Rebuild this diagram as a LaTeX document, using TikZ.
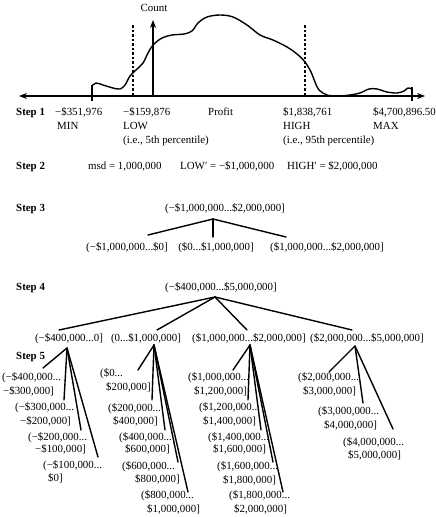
\documentclass[tikz,border=0pt]{standalone}
\usepackage{fontspec}
\setmainfont{Liberation Serif}
\usetikzlibrary{arrows.meta}
\begin{document}
\begin{tikzpicture}[x=1pt,y=-1pt,
  lbl/.style={inner sep=0pt, anchor=base west, font=\fontsize{10.9}{12}\selectfont},
  clbl/.style={inner sep=0pt, anchor=base, font=\fontsize{10.9}{12}\selectfont},
  steplbl/.style={inner sep=0pt, anchor=base west, font=\fontsize{10.9}{12}\selectfont\bfseries},
  branch/.style={line width=1.4pt, line cap=round},
  axisline/.style={line width=1.2pt},
  tipstyle/.style={-{Stealth[length=8pt,width=6pt]}},
  dashline/.style={line width=1.1pt, dash pattern=on 2.5pt off 2pt},
  curveline/.style={line width=1.4pt, line join=round}
]
\useasboundingbox (0,0) rectangle (436,517);

% ---------- Step 1: distribution ----------
\coordinate (axL) at (19,96);
\coordinate (axR) at (425,96);
\coordinate (cntB) at (153,96);
\coordinate (cntT) at (153,20);
\coordinate (minT) at (92,85);
\coordinate (minB) at (92,101);
\coordinate (maxT) at (412,87);
\coordinate (maxB) at (412,101);
\coordinate (lowT) at (133,25);
\coordinate (lowB) at (133,96);
\coordinate (highT) at (305,25);
\coordinate (highB) at (305,96);

\draw[axisline,{Stealth[length=8pt,width=6pt]}-{Stealth[length=8pt,width=6pt]}] (axL) -- (axR);
\draw[axisline,tipstyle] (cntB) -- (cntT);
\draw[dashline] (lowT) -- (lowB);
\draw[dashline] (highT) -- (highB);
\draw[line width=1.4pt] (minT) -- (minB);
\draw[line width=1.4pt] (maxT) -- (maxB);
\draw[curveline] plot[smooth, tension=0.55] coordinates {
 (92,86) (96,83) (103,85) (113,88) (120,89) (125,85) (130,76) (136,70)
 (143,63) (148,53) (153,45) (162,38) (172,35) (184,34) (192,31) (198,23)
 (207,17) (220,15) (233,17) (247,25) (260,35) (273,40) (287,47) (297,54)
 (305,62) (311,72) (315,82) (319,90) (327,95) (338,96) (350,95) (360,93)
 (369,89) (377,89) (387,92) (397,93) (404,91) (408,88) (412,89)};

\node[clbl] (count) at (154,11.5) {Count};

\node[steplbl] (s1) at (16,115.5) {Step 1};
\node[lbl] (vmin) at (55,115.5) {−\$351,976};
\node[lbl] (vlow) at (123,115.5) {−\$159,876};
\node[lbl] (profit) at (208,115.5) {Profit};
\node[lbl] (vhigh) at (283,115.5) {\$1,838,761};
\node[lbl] (vmax) at (373,115.5) {\$4,700,896.50};
\node[lbl] (tmin) at (57,129.5) {MIN};
\node[lbl] (tlow) at (123,129.5) {LOW};
\node[lbl] (thigh) at (283,129.5) {HIGH};
\node[lbl] (tmax) at (373,129.5) {MAX};
\node[lbl] (plow) at (123,143.5) {(i.e., 5th percentile)};
\node[lbl] (phigh) at (283,143.5) {(i.e., 95th percentile)};

% ---------- Step 2 ----------
\node[steplbl] (s2) at (16,169.5) {Step 2};
\node[lbl] (msd) at (88,169.5) {msd = 1,000,000};
\node[lbl] (lowp) at (180,169.5) {LOW′ = −\$1,000,000};
\node[lbl] (highp) at (287,169.5) {HIGH′ = \$2,000,000};

% ---------- Step 3 ----------
\node[steplbl] (s3) at (16,211.5) {Step 3};
\node[clbl] (r3) at (225,211.5) {(−\$1,000,000...\$2,000,000]};
\node[clbl] (c31) at (127,250.5) {(−\$1,000,000...\$0]};
\node[clbl] (c32) at (216,250.5) {(\$0...\$1,000,000]};
\node[clbl] (c33) at (327,250.5) {(\$1,000,000...\$2,000,000]};
\coordinate (a3) at (213,219);
\coordinate (e31) at (148,235);
\coordinate (e32) at (213,237);
\coordinate (e33) at (286,237);
\draw[branch] (a3) -- (e31);
\draw[branch] (a3) -- (e32);
\draw[branch] (a3) -- (e33);

% ---------- Step 4 ----------
\node[steplbl] (s4) at (16,290.5) {Step 4};
\node[clbl] (r4) at (221,290.5) {(−\$400,000...\$5,000,000]};
\node[clbl] (c41) at (69,341.5) {(−\$400,000...0]};
\node[clbl] (c42) at (146,341.5) {(0...\$1,000,000]};
\node[clbl] (c43) at (249,341.5) {(\$1,000,000...\$2,000,000]};
\node[clbl] (c44) at (367,341.5) {(\$2,000,000...\$5,000,000]};
\coordinate (a4) at (215,297);
\coordinate (e41) at (59,330);
\coordinate (e42) at (157,330);
\coordinate (e43) at (247,330);
\coordinate (e44) at (352,330);
\draw[branch] (a4) -- (e41);
\draw[branch] (a4) -- (e42);
\draw[branch] (a4) -- (e43);
\draw[branch] (a4) -- (e44);

% ---------- Step 5 ----------
\node[steplbl] (s5) at (16,359.5) {Step 5};

% group 1
\coordinate (g1) at (67,348);
\node[lbl] (g1a) at (2,380.5) {(−\$400,000...};
\node[lbl] (g1a2) at (3,394.5) {−\$300,000]};
\node[lbl] (g1b) at (15,410.5) {(−\$300,000...};
\node[lbl] (g1b2) at (20,424.5) {−\$200,000]};
\node[lbl] (g1c) at (28,440.5) {(−\$200,000...};
\node[lbl] (g1c2) at (35,452.5) {−\$100,000]};
\node[lbl] (g1d) at (43,468.5) {(−\$100,000...};
\node[lbl] (g1d2) at (48,481.5) {\$0]};
\coordinate (f11) at (43,368);
\coordinate (f12) at (64,400);
\coordinate (f13) at (81,430);
\coordinate (f14) at (98,457);
\foreach \e in {f11,f12,f13,f14} \draw[branch] (g1) -- (\e);

% group 2
\coordinate (g2) at (154,345);
\node[lbl] (g2a) at (100,376.5) {(\$0...};
\node[lbl] (g2a2) at (106,390.5) {\$200,000]};
\node[lbl] (g2b) at (108,411.5) {(\$200,000...};
\node[lbl] (g2b2) at (113,424.5) {\$400,000]};
\node[lbl] (g2c) at (119,440.5) {(\$400,000...};
\node[lbl] (g2c2) at (125,452.5) {\$600,000]};
\node[lbl] (g2d) at (122,469.5) {(\$600,000...};
\node[lbl] (g2d2) at (135,482.5) {\$800,000]};
\node[lbl] (g2e) at (141,498.5) {(\$800,000...};
\node[lbl] (g2e2) at (147,512.5) {\$1,000,000]};
\coordinate (f21) at (138,370);
\coordinate (f22) at (152,400);
\coordinate (f23) at (165,430);
\coordinate (f24) at (178,462);
\coordinate (f25) at (188,492);
\foreach \e in {f21,f22,f23,f24,f25} \draw[branch] (g2) -- (\e);

% group 3
\coordinate (g3) at (250,345);
\node[lbl] (g3a) at (188,380.5) {(\$1,000,000...};
\node[lbl] (g3a2) at (194,394.5) {\$1,200,000]};
\node[lbl] (g3b) at (199,410.5) {(\$1,200,000...};
\node[lbl] (g3b2) at (203,424.5) {\$1,400,000]};
\node[lbl] (g3c) at (208,440.5) {(\$1,400,000...};
\node[lbl] (g3c2) at (213,452.5) {\$1,600,000]};
\node[lbl] (g3d) at (217,469.5) {(\$1,600,000...};
\node[lbl] (g3d2) at (223,483.5) {\$1,800,000]};
\node[lbl] (g3e) at (229,498.5) {(\$1,800,000...};
\node[lbl] (g3e2) at (234,512.5) {\$2,000,000]};
\coordinate (f31) at (233,370);
\coordinate (f32) at (248,400);
\coordinate (f33) at (261,430);
\coordinate (f34) at (273,462);
\coordinate (f35) at (283,492);
\foreach \e in {f31,f32,f33,f34,f35} \draw[branch] (g3) -- (\e);

% group 4
\coordinate (g4) at (355,346);
\node[lbl] (g4a) at (298,380.5) {(\$2,000,000...};
\node[lbl] (g4a2) at (303,394.5) {\$3,000,000]};
\node[lbl] (g4b) at (318,414.5) {(\$3,000,000...};
\node[lbl] (g4b2) at (324,428.5) {\$4,000,000]};
\node[lbl] (g4c) at (343,445.5) {(\$4,000,000...};
\node[lbl] (g4c2) at (348,458.5) {\$5,000,000]};
\coordinate (f41) at (329,372);
\coordinate (f42) at (363,403);
\coordinate (f43) at (393,429);
\foreach \e in {f41,f42,f43} \draw[branch] (g4) -- (\e);

\end{tikzpicture}
\end{document}
